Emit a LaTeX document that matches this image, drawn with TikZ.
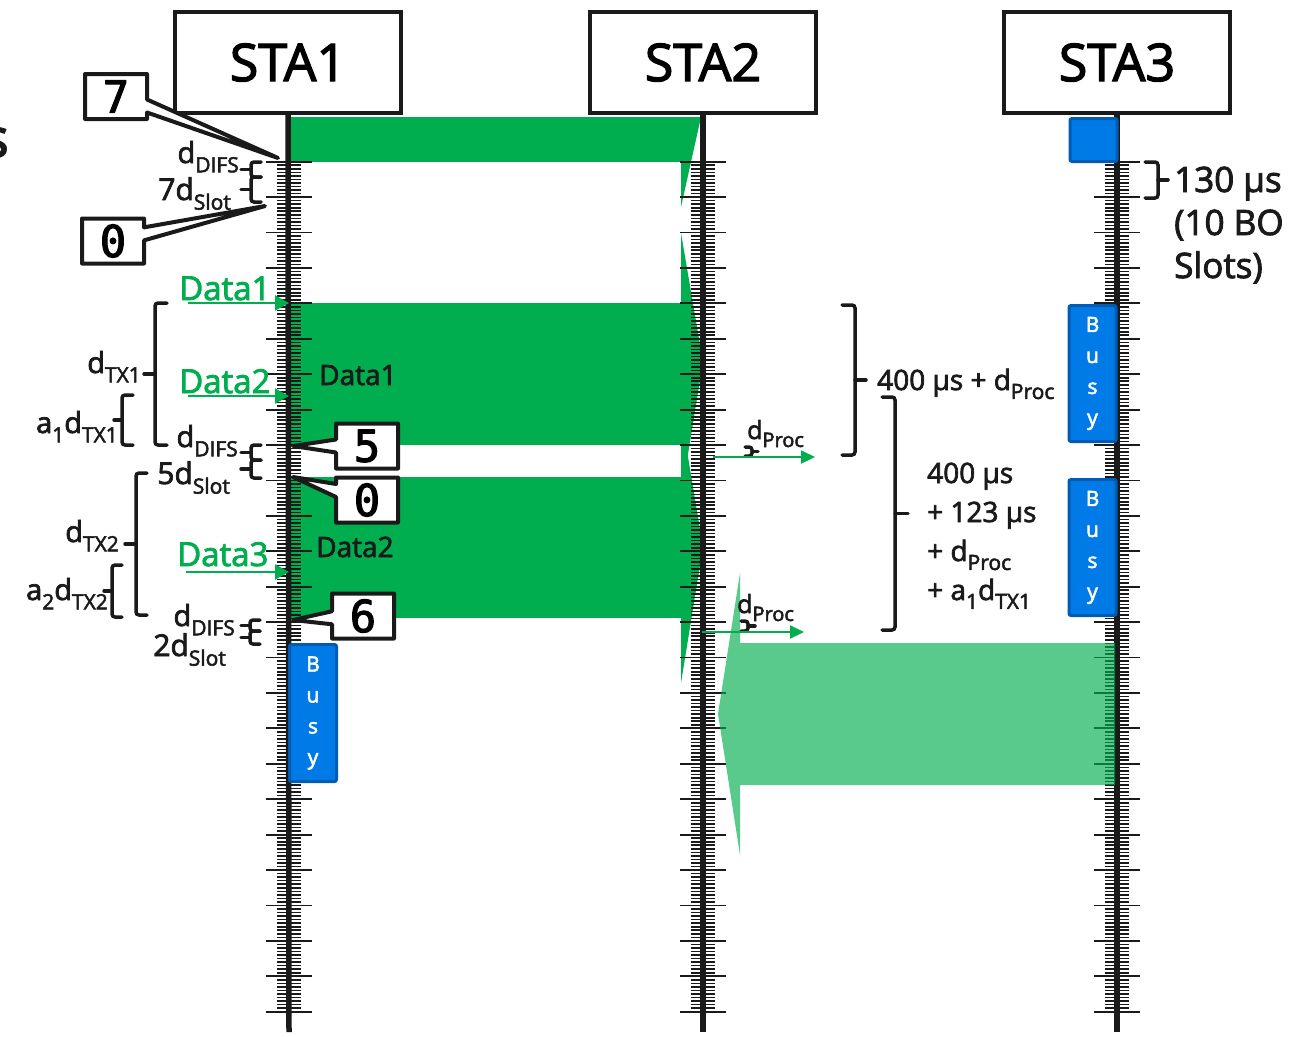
\documentclass[tikz,border=0pt]{standalone}
\usepackage{fontspec}
\setmainfont{Open Sans}[FakeBold=2.5]
\newfontfamily\monof{DejaVu Sans Mono}[FakeBold=2.5]
\usetikzlibrary{arrows.meta,shapes.callouts}
\definecolor{dg}{RGB}{0,173,79}
\definecolor{bb}{RGB}{0,122,230}
\definecolor{bbd}{RGB}{0,92,178}
\definecolor{ink}{RGB}{26,26,26}
\newcommand\sbs[2]{\raisebox{-0.32em}{\fontsize{#1}{#1}\selectfont #2}}
\newcommand\fs[1]{\fontsize{#1}{#1}\selectfont}
\newcommand\fsl[2]{\fontsize{#1}{#2}\selectfont}
% bracket: x_ends, x_vert, y1, y2, x_nub
\newcommand\lbrk[5]{\draw[brk] (#1,#3) -- (#2,#3) -- (#2,#4) -- (#1,#4);
  \draw[brk] (#2,{(#3+#4)/2}) -- (#5,{(#3+#4)/2});}
\tikzset{
  brk/.style={ink, line width=3.5pt, rounded corners=3pt, line cap=round},
  stabox/.style={draw=ink, line width=4pt, fill=white, minimum width=226pt, minimum height=101pt, inner sep=0pt, font=\fs{52}},
  busy/.style={fill=bb, draw=bbd, line width=3pt, rounded corners=2pt, text=white, align=center, inner sep=0pt, font=\fsl{21}{31}},
  co/.style={rectangle callout, draw=ink, fill=white, line width=4pt, line join=round, inner sep=0pt, minimum width=62pt, minimum height=45pt, callout pointer width=13pt, font=\monof\fs{44}},
  garrow/.style={dg, line width=2.5pt, -{Triangle[length=14pt,width=15pt]}},
  lab/.style={inner sep=0pt, text=ink, font=\fs{29}},
  labb/.style={inner sep=0pt, text=ink, font=\fs{30}},
  gl/.style={inner sep=0pt, text=dg, font=\fs{33}},
}
\begin{document}
\begin{tikzpicture}[x=1pt,y=-1pt]
\useasboundingbox (0,0) rectangle (1292,1036);
% cut-off letter at left edge
\node[inner sep=0pt, anchor=base east, font=\fs{54}, text=ink] (cut) at (9,157) {s};
% dark green transmissions
\fill[dg] (289,117) rectangle (681,162);
\fill[dg] (681,117) -- (701,117) -- (681,207) -- cycle;
\fill[dg] (289,303) rectangle (681,445);
\fill[dg] (681,233) -- (703,362) -- (681,497) -- cycle;
\fill[dg] (289,477) rectangle (681,618);
\fill[dg] (681,415) -- (703,547) -- (681,683) -- cycle;
% station boxes
\node[stabox] (sta1) at (288,62.5) {STA1};
\node[stabox] (sta2) at (703,62.5) {STA2};
\node[stabox] (sta3) at (1117,62.5) {STA3};
% lifelines with ticks
\foreach \s/\x in {sta1/289,sta2/703,sta3/1117}{
  \coordinate (\s end) at (\x,1032);
  \draw[ink, line width=5.5pt] (\s.south) -- (\s end);
  \foreach \i in {0,...,240}{
    \draw[ink, line width=1.6pt] ({\x-12},{161.7+3.5417*\i}) -- ++(24,0);
  }
  \foreach \i in {0,...,24}{
    \draw[ink, line width=1.8pt] ({\x-23},{161.7+35.417*\i}) -- ++(46,0);
  }
}
% light green transmission STA3 -> STA2
\fill[dg, opacity=0.65] (740,573) -- (718,714) -- (740,855) -- (740,785) -- (1115,785) -- (1115,643) -- (740,643) -- cycle;
% busy boxes
\node[busy, minimum width=47pt, minimum height=43pt] (busy0) at (1093.5,140) {};
\node[busy, minimum width=47pt, minimum height=136pt] (busy1) at (1092.5,373.5) {B\\u\\s\\y};
\node[busy, minimum width=47pt, minimum height=136pt] (busy2) at (1092.5,547.5) {B\\u\\s\\y};
\node[busy, minimum width=47pt, minimum height=137pt] (busy3) at (313,713) {B\\u\\s\\y};
% callouts
\node[co, callout absolute pointer={(278,158)}] (c7) at (116,96.5) {7};
\node[co, callout absolute pointer={(265,206)}] (c0a) at (113,241) {0};
\node[co, callout absolute pointer={(293,446)}] (c5) at (367,446) {5};
\node[co, callout absolute pointer={(293,477)}] (c0b) at (367,500) {0};
\node[co, callout absolute pointer={(293,620)}] (c6) at (363,616) {6};
% green data labels with arrows
\node[gl, anchor=base west] (g1) at (179,300) {Data1};
\node[gl, anchor=base west] (g2) at (179,393) {Data2};
\node[gl, anchor=base west] (g3) at (177,566) {Data3};
\coordinate (g1s) at (188,303); \coordinate (g1e) at (289,303);
\coordinate (g2s) at (188,396); \coordinate (g2e) at (289,396);
\coordinate (g3s) at (186,572); \coordinate (g3e) at (289,572);
\draw[garrow] (g1s) -- (g1e);
\draw[garrow] (g2s) -- (g2e);
\draw[garrow] (g3s) -- (g3e);
% text inside blocks
\node[inner sep=0pt, anchor=base west, font=\fs{28}, text=ink] (t1) at (319,385) {Data1};
\node[inner sep=0pt, anchor=base west, font=\fs{28}, text=ink] (t2) at (316,557) {Data2};
% left labels
\node[lab, anchor=base east] (l1) at (239,163) {d\sbs{21}{DIFS}};
\node[labb, anchor=base east] (l2) at (231,200) {7d\sbs{21}{Slot}};
\lbrk{261}{251}{162}{177}{241}
\lbrk{261}{251}{177}{202}{241}
\node[lab, anchor=base east] (l3) at (141,373) {d\sbs{21}{TX1}};
\lbrk{167}{155}{303}{445}{144}
\node[lab, anchor=base east] (l4) at (118,433) {a\sbs{21}{1}d\sbs{21}{TX1}};
\lbrk{133}{122}{395}{445}{114}
\node[lab, anchor=base east] (l5) at (238,447) {d\sbs{21}{DIFS}};
\node[labb, anchor=base east] (l6) at (230,484) {5d\sbs{21}{Slot}};
\lbrk{261}{251}{445}{460}{241}
\lbrk{261}{251}{460}{478}{241}
\node[lab, anchor=base east] (l7) at (119,542) {d\sbs{21}{TX2}};
\lbrk{147}{136}{473}{615}{125}
\node[lab, anchor=base east] (l8) at (108,600) {a\sbs{21}{2}d\sbs{21}{TX2}};
\lbrk{122}{112}{565}{617}{104}
\node[lab, anchor=base east] (l9) at (235,626) {d\sbs{21}{DIFS}};
\node[labb, anchor=base east] (l10) at (226,656) {2d\sbs{21}{Slot}};
\lbrk{260}{250}{620}{631}{241}
\lbrk{260}{250}{631}{644}{241}
% right side: processing delays near STA2
\node[inner sep=0pt, anchor=base west, font=\fs{25}, text=ink] (p1) at (747,439) {d\sbs{20}{Proc}};
\node[inner sep=0pt, anchor=base west, font=\fs{25}, text=ink] (p2) at (737,613) {d\sbs{20}{Proc}};
\lbrk{745}{752}{447}{456}{758}
\lbrk{741}{748}{621}{631}{755}
\coordinate (p1s) at (713,457); \coordinate (p1e) at (815,457);
\coordinate (p2s) at (702,632); \coordinate (p2e) at (804,632);
\draw[garrow, line width=2.2pt, -{Triangle[length=14pt,width=13pt]}] (p1s) -- (p1e);
\draw[garrow, line width=2.2pt, -{Triangle[length=14pt,width=13pt]}] (p2s) -- (p2e);
% right braces and texts
\lbrk{842}{855}{305}{455}{866}
\node[inner sep=0pt, anchor=base west, font=\fs{28}, text=ink] (r1) at (877,390) {400 µs + d\sbs{21}{Proc}};
\lbrk{882}{895}{397}{630}{908}
\node[inner sep=0pt, anchor=base west, align=left, font=\fsl{28}{39}, text=ink] (r2) at (927,600) {400 µs\\+ 123 µs\\+ d\sbs{21}{Proc}\\+ a\sbs{21}{1}d\sbs{21}{TX1}};
\lbrk{1145}{1158}{162}{198}{1168}
\node[inner sep=0pt, anchor=base west, align=left, font=\fsl{35}{43}, text=ink] (r3) at (1174,278) {130 µs\\(10 BO\\Slots)};
\end{tikzpicture}
\end{document}
